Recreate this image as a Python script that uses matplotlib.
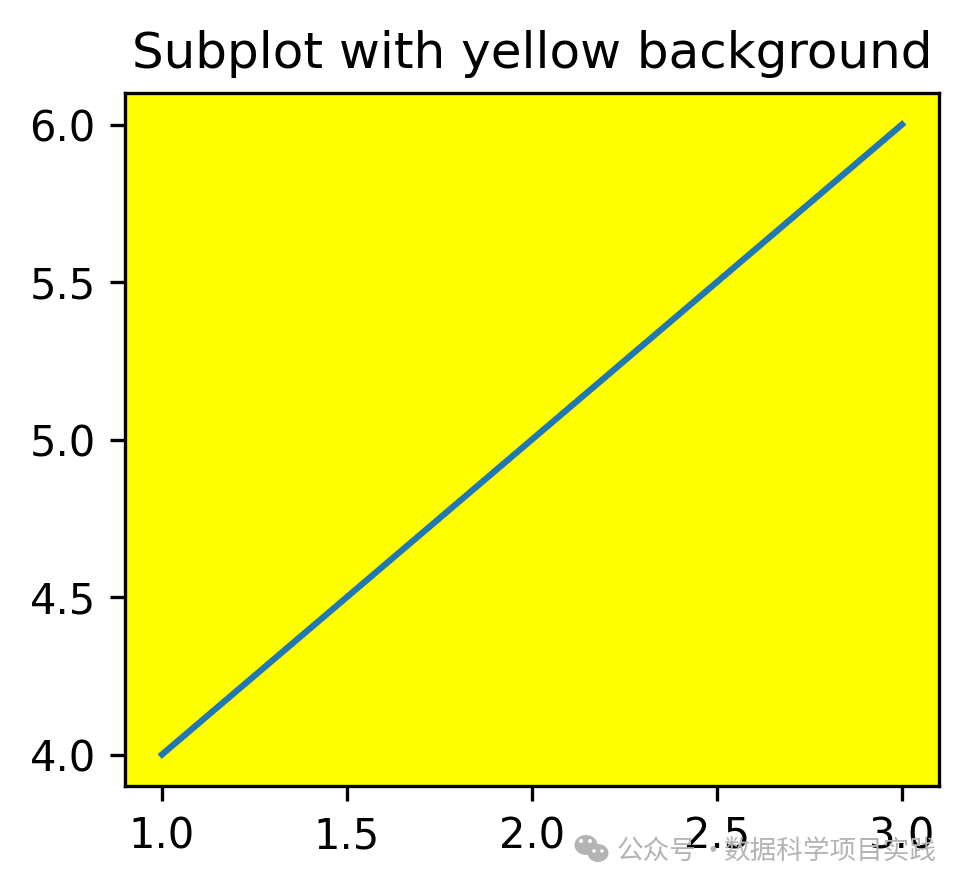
import matplotlib.pyplot as plt
from matplotlib.patches import Ellipse

plt.rcParams['font.family'] = ['DejaVu Sans', 'Noto Sans CJK SC']

xs = [1, 2, 3]
ys = [4, 5, 6]
watermark_left = "公众号"
watermark_dot = "·"
watermark_right = "数据科学项目实践"

W, H = 969, 887
fig = plt.figure(figsize=(W / 300, H / 300), dpi=300)
ax = fig.add_axes([125 / W, 1 - 786 / H, (939 - 125) / W, (786 - 93) / H])
ax.set_facecolor("yellow")
ax.plot(xs, ys)
ax.set_title("Subplot with yellow background")


# wechat logo next to the watermark, in pixels of the image
def blob(cx, cy, w, h, color, z):
    fig.add_artist(Ellipse((cx / W, 1 - cy / H), w / W, h / H, color=color, lw=0, zorder=z))


blob(586, 845, 23, 20, "#b4b4b4", 5)
blob(598, 853, 21, 18, "#b4b4b4", 7)
for cx, cy in [(581, 841), (590, 841)]:
    blob(cx, cy, 4, 4, "white", 6)
for cx, cy in [(594, 851), (602, 851)]:
    blob(cx, cy, 3.5, 3.5, "white", 8)

cjk = ['Noto Sans CJK SC', 'DejaVu Sans']
for x, s in [(617, watermark_left), (699, watermark_dot), (724, watermark_right)]:
    fig.text(x / W, 1 - 851 / H, s, fontsize=6.4, color="#b4b4b4", va="center", family=cjk)

fig.savefig("out.png", dpi=300)
